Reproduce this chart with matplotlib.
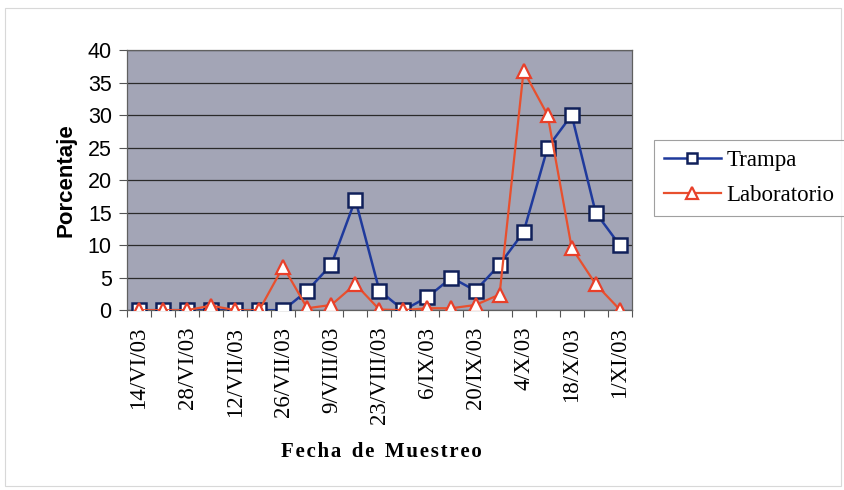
import matplotlib
matplotlib.use("Agg")
import matplotlib.pyplot as plt
from matplotlib.patches import Rectangle

fechas = ["14/VI/03", "28/VI/03", "12/VII/03", "26/VII/03", "9/VIII/03", "23/VIII/03",
          "6/IX/03", "20/IX/03", "4/X/03", "18/X/03", "1/XI/03"]
trampa = [0, 0, 0, 0, 0, 0, 0, 3, 7, 17, 3, 0, 2, 5, 3, 7, 12, 25, 30, 15, 10]
laboratorio = [0, 0, 0, 0.7, 0, 0, 6.7, 0.3, 0.8, 4, 0.1, 0, 0.3, 0.3, 0.8, 2.4, 36.8, 30, 9.6, 4, 0.1]
yticks = [0, 5, 10, 15, 20, 25, 30, 35, 40]

fig = plt.figure(figsize=(8.44, 4.90), dpi=100)
fig.patches.append(Rectangle((0.006, 0.008), 0.99, 0.975, transform=fig.transFigure,
                             fill=False, edgecolor="#d8d8d8", linewidth=0.8))
ax = fig.add_axes([0.1505, 0.367, 0.598, 0.531])
ax.set_facecolor("#a3a5b6")

x = list(range(len(trampa)))
ax.plot(x, trampa, color="#1f3a9c", linewidth=1.8, marker="s", markersize=9.5,
        markerfacecolor="white", markeredgecolor="#10205a", markeredgewidth=1.8,
        label="Trampa", zorder=3)
ax.plot(x, laboratorio, color="#e8502e", linewidth=1.6, marker="^", markersize=10,
        markerfacecolor="white", markeredgecolor="#e8402a", markeredgewidth=1.6,
        label="Laboratorio", zorder=4)

ax.set_xlim(-0.5, len(trampa) - 0.5)
ax.set_ylim(0, 40)
ax.set_yticks(yticks)
ax.set_yticklabels([str(v) for v in yticks], fontfamily="Liberation Sans", fontsize=15.5)
ax.yaxis.grid(True, color="#2a2a2a", linewidth=0.9)
ax.set_axisbelow(True)
ax.tick_params(axis="y", length=6, width=0.8, color="#555555", pad=5)

ax.set_xticks([i - 0.5 for i in range(len(trampa) + 1)])
ax.set_xticklabels([])
ax.tick_params(axis="x", which="major", length=5, width=0.8, color="#555555")
ax.set_xticks(list(range(0, len(trampa), 2)), minor=True)
ax.set_xticklabels(fechas, minor=True, rotation=90, fontfamily="Liberation Serif", fontsize=16.5)
ax.tick_params(axis="x", which="minor", length=0, pad=12)

for s in ax.spines.values():
    s.set_color("#606060")
    s.set_linewidth(0.9)

ax.set_ylabel("Porcentaje", fontfamily="Liberation Sans", fontweight="bold", fontsize=16, labelpad=8)
fig.text(0.452, 0.077, "F e c h a  d e  M u e s t r e o".replace("  ", "\u2002").replace(" ", "\u200a"),
         ha="center", va="center", fontfamily="Liberation Serif", fontweight="bold", fontsize=15)

leg = fig.legend(loc="upper left", bbox_to_anchor=(0.775, 0.715), prop={"family": "Liberation Serif", "size": 16.5},
                 frameon=True, fancybox=False, edgecolor="#888888", borderpad=0.45, handlelength=2.45,
                 labelspacing=0.6, handletextpad=0.25, borderaxespad=0, markerscale=0.8)
leg.get_frame().set_linewidth(0.8)

fig.savefig("out.png", dpi=100, facecolor="white")
